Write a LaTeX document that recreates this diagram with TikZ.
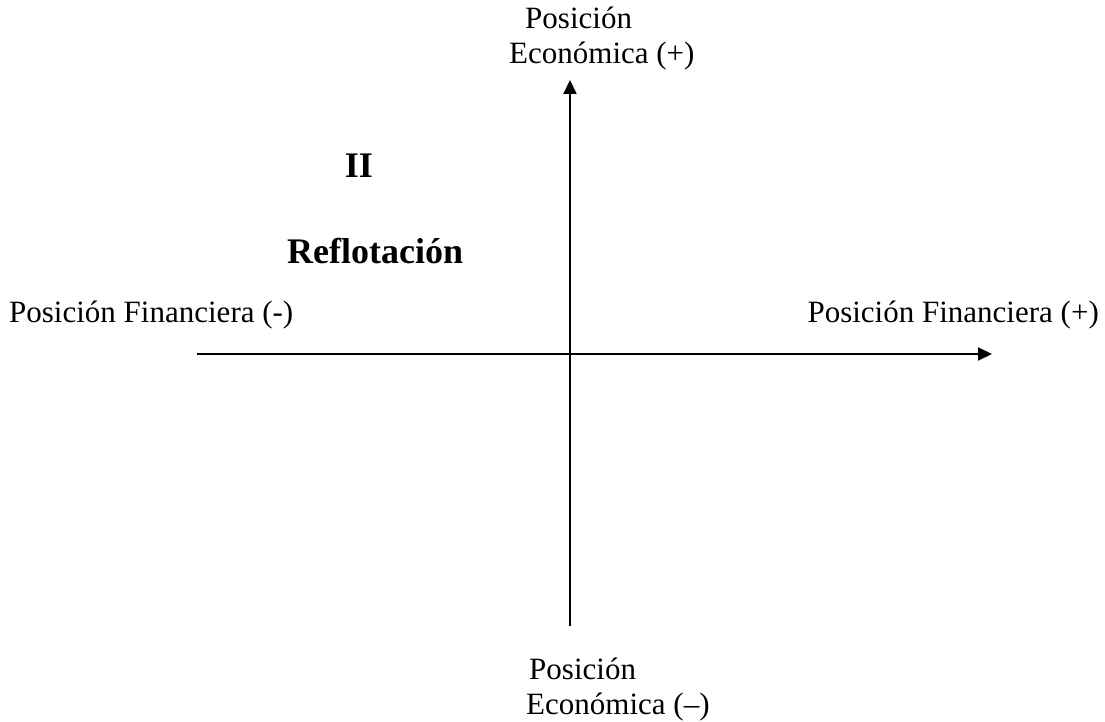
\documentclass[tikz,border=0pt]{standalone}
\usepackage{fontspec}
\setmainfont{Liberation Serif}
\usetikzlibrary{arrows.meta}
\begin{document}
\begin{tikzpicture}[x=1pt,y=-1pt,
  lbl/.style={font=\fontsize{31}{33}\selectfont, inner sep=0pt},
  big/.style={font=\fontsize{36}{38}\selectfont\bfseries, inner sep=0pt},
  axis/.style={line width=2pt, -{Triangle[length=14pt,width=13pt]}}]
\useasboundingbox (0,0) rectangle (1105,722);
\coordinate (hs) at (197,354);
\coordinate (he) at (992,354);
\coordinate (vs) at (570,626);
\coordinate (ve) at (570,80);
\draw[axis] (hs) -- (he);
\draw[axis] (vs) -- (ve);
\node[lbl, anchor=base west] (tp) at (525,29) {Posición};
\node[lbl, anchor=base west] (te) at (509,64) {Económica (+)};
\node[lbl, anchor=base west] (bp) at (529,679) {Posición};
\node[lbl, anchor=base west] (be) at (526,714) {Económica (–)};
\node[lbl, anchor=base west] (lf) at (9,322) {Posición Financiera (-)};
\node[lbl, anchor=base east] (rf) at (1099,322) {Posición Financiera (+)};
\node[big, anchor=base] (q) at (359,178) {II};
\node[big, anchor=base west] (r) at (287,263) {Reflotación};
\end{tikzpicture}
\end{document}
